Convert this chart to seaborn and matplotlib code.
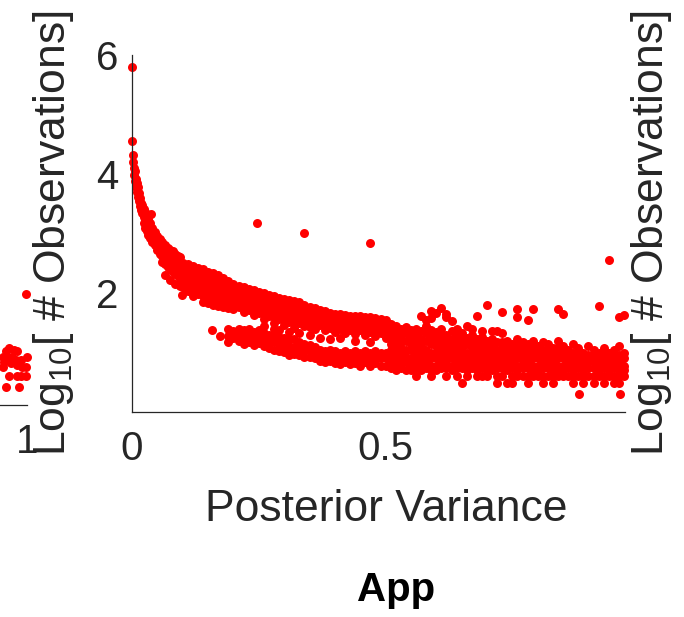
import numpy as np
import pandas as pd
import matplotlib
matplotlib.use("Agg")
import matplotlib.pyplot as plt
import seaborn as sns

# ---------------- data ----------------
# isolated points: (posterior variance, log10 #observations)
outlier_x = [0.000, 0.000, 0.037, 0.098, 0.157, 0.173, 0.246, 0.340, 0.470, 0.940, 0.882, 0.962]
outlier_y = [5.80, 4.55, 3.33, 1.97, 1.38, 1.28, 3.18, 3.01, 2.84, 2.55, 0.30, 0.30]

# steep head of the curve (column x, list of y values)
head_x = [0.002, 0.004, 0.006, 0.008, 0.010, 0.012, 0.014, 0.016, 0.018, 0.020,
          0.023, 0.026, 0.029, 0.032, 0.035]
head_y = [[4.32, 4.20], [4.10, 3.98], [4.05, 3.88], [3.92, 3.78], [3.85, 3.70],
          [3.78, 3.62], [3.68, 3.55], [3.60, 3.46], [3.52, 3.40], [3.48, 3.34],
          [3.42, 3.28, 3.18], [3.36, 3.22, 3.10], [3.30, 3.17, 3.04],
          [3.24, 3.12, 2.98], [3.18, 3.06, 2.93]]

# upper band
upper_x = [0.040, 0.045, 0.050, 0.055, 0.060, 0.065, 0.070, 0.075, 0.080, 0.085,
           0.090, 0.095, 0.10, 0.11, 0.12, 0.13, 0.14, 0.15, 0.16, 0.17, 0.18,
           0.19, 0.20, 0.21, 0.22, 0.23, 0.24, 0.25, 0.26, 0.27, 0.28, 0.29,
           0.30, 0.31, 0.32, 0.33, 0.34, 0.35, 0.36, 0.37, 0.38, 0.39, 0.40,
           0.41, 0.42, 0.43, 0.44, 0.45, 0.46, 0.47, 0.48, 0.49, 0.50]
upper_y = [[3.10, 2.98, 2.86], [3.02, 2.90, 2.80], [2.95, 2.84, 2.72],
           [2.90, 2.78, 2.66], [2.86, 2.74, 2.62, 2.52], [2.80, 2.70, 2.58, 2.48, 2.30],
           [2.76, 2.65, 2.54, 2.44], [2.72, 2.62, 2.50, 2.40, 2.22],
           [2.70, 2.58, 2.46, 2.36], [2.66, 2.55, 2.44, 2.32, 2.15],
           [2.62, 2.52, 2.40, 2.28], [2.60, 2.48, 2.36, 2.25, 2.12],
           [2.50, 2.40, 2.30, 2.20, 2.10], [2.48, 2.37, 2.26, 2.15, 2.04],
           [2.45, 2.34, 2.23, 2.12, 2.02, 1.95], [2.42, 2.31, 2.20, 2.09, 1.98],
           [2.40, 2.29, 2.18, 2.06, 1.95, 1.85], [2.36, 2.25, 2.14, 2.03, 1.92, 1.83],
           [2.33, 2.22, 2.11, 2.00, 1.90, 1.80], [2.30, 2.19, 2.08, 1.97, 1.87, 1.78],
           [2.25, 2.15, 2.05, 1.95, 1.85, 1.76], [2.20, 2.10, 2.00, 1.90, 1.81, 1.74],
           [2.15, 2.06, 1.97, 1.88, 1.80, 1.73], [2.12, 2.03, 1.94, 1.85, 1.77],
           [2.10, 2.01, 1.92, 1.83, 1.75, 1.68], [2.07, 1.98, 1.89, 1.80, 1.72],
           [2.05, 1.96, 1.87, 1.78, 1.70, 1.63], [2.02, 1.93, 1.84, 1.75, 1.66],
           [2.00, 1.91, 1.82, 1.73, 1.64, 1.57, 1.45], [1.97, 1.88, 1.79, 1.70, 1.61],
           [1.95, 1.86, 1.77, 1.68, 1.59, 1.50, 1.40], [1.92, 1.83, 1.74, 1.65, 1.56, 1.37],
           [1.90, 1.81, 1.72, 1.63, 1.55, 1.47], [1.88, 1.79, 1.70, 1.61, 1.52, 1.35],
           [1.87, 1.78, 1.68, 1.59, 1.50, 1.42], [1.85, 1.76, 1.67, 1.58, 1.49, 1.32],
           [1.80, 1.71, 1.62, 1.53, 1.45], [1.77, 1.68, 1.59, 1.50, 1.43, 1.30],
           [1.74, 1.65, 1.56, 1.48, 1.40], [1.71, 1.62, 1.54, 1.46, 1.25],
           [1.69, 1.60, 1.52, 1.44, 1.37], [1.67, 1.58, 1.50, 1.42, 1.22],
           [1.65, 1.57, 1.49, 1.41, 1.34], [1.64, 1.56, 1.48, 1.40, 1.25],
           [1.63, 1.55, 1.47, 1.39, 1.33], [1.62, 1.54, 1.46, 1.38],
           [1.62, 1.54, 1.46, 1.38, 1.31, 1.20], [1.61, 1.53, 1.45, 1.37],
           [1.60, 1.52, 1.44, 1.36, 1.30], [1.59, 1.51, 1.43, 1.35, 1.18],
           [1.58, 1.50, 1.42, 1.34, 1.28], [1.56, 1.48, 1.40, 1.32],
           [1.55, 1.47, 1.39, 1.31, 1.25]]

# lower band
lower_x = [0.19, 0.20, 0.21, 0.22, 0.23, 0.24, 0.25, 0.26, 0.27, 0.28, 0.29, 0.30,
           0.31, 0.32, 0.33, 0.34, 0.35, 0.36, 0.37, 0.38, 0.39, 0.40, 0.41, 0.42,
           0.43, 0.44, 0.45, 0.46, 0.47, 0.48, 0.49, 0.50]
lower_y = [[1.39, 1.28, 1.17], [1.36, 1.24], [1.40, 1.30, 1.19], [1.37, 1.26, 1.15],
           [1.39, 1.29, 1.18], [1.35, 1.24, 1.13], [1.38, 1.27, 1.16], [1.33, 1.22, 1.11],
           [1.30, 1.19, 1.08], [1.28, 1.17, 1.05], [1.26, 1.15, 1.03], [1.24, 1.13, 1.01],
           [1.23, 1.11, 1.00, 0.95], [1.22, 1.10, 0.98], [1.18, 1.07, 0.96],
           [1.15, 1.04, 0.93], [1.12, 1.02, 0.92], [1.10, 1.00, 0.90], [1.04, 0.95, 0.86],
           [1.02, 0.93, 0.84], [1.04, 0.95, 0.85], [1.02, 0.92, 0.82], [1.00, 0.90, 0.81],
           [1.02, 0.93, 0.84], [1.00, 0.90, 0.80], [1.02, 0.92, 0.82], [1.00, 0.90, 0.78],
           [1.02, 0.93, 0.84], [1.00, 0.90, 0.78], [1.02, 0.92, 0.82], [1.00, 0.90, 0.78],
           [1.00, 0.90, 0.78]]

# merged tail (x >= 0.51)
tail_x = [0.51, 0.52, 0.53, 0.54, 0.55, 0.56, 0.57, 0.58, 0.59, 0.60, 0.61, 0.62,
          0.63, 0.64, 0.65, 0.66, 0.67, 0.68, 0.69, 0.70, 0.71, 0.72, 0.73, 0.74,
          0.75, 0.76, 0.77, 0.78, 0.79, 0.80, 0.81, 0.82, 0.83, 0.84, 0.85, 0.86,
          0.87, 0.88, 0.89, 0.90, 0.91, 0.92, 0.93, 0.94, 0.95, 0.96, 0.97]
tail_y = [[1.48, 1.38, 1.26, 1.15, 1.04, 0.93, 0.84, 0.74],
          [1.45, 1.34, 1.23, 1.11, 1.00, 0.90, 0.78, 0.70],
          [1.40, 1.30, 1.18, 1.08, 0.95, 0.85, 0.74],
          [1.43, 1.32, 1.20, 1.04, 0.93, 0.84, 0.70],
          [1.38, 1.26, 1.15, 1.04, 0.90, 0.78, 0.70],
          [1.40, 1.28, 1.18, 1.08, 0.95, 0.85, 0.74, 0.60],
          [1.62, 1.36, 1.23, 1.11, 1.00, 0.90, 0.78, 0.70],
          [1.55, 1.45, 1.32, 1.20, 1.04, 0.93, 0.84, 0.74],
          [1.70, 1.58, 1.38, 1.26, 1.15, 1.00, 0.90, 0.78, 0.70, 0.60],
          [1.66, 1.34, 1.23, 1.11, 1.00, 0.90, 0.78, 0.70],
          [1.74, 1.40, 1.28, 1.15, 1.04, 0.93, 0.84, 0.74],
          [1.65, 1.60, 1.30, 1.20, 1.08, 0.95, 0.85, 0.74, 0.60],
          [1.53, 1.36, 1.23, 1.11, 1.00, 0.90, 0.78, 0.70],
          [1.40, 1.28, 1.15, 1.04, 0.93, 0.84, 0.74, 0.60],
          [1.32, 1.20, 1.08, 0.95, 0.85, 0.74, 0.48],
          [1.45, 1.25, 1.15, 1.00, 0.90, 0.78, 0.70, 0.60],
          [1.40, 1.30, 1.18, 1.08, 0.95, 0.85, 0.74],
          [1.61, 1.23, 1.11, 1.00, 0.90, 0.78, 0.70, 0.60],
          [1.36, 1.26, 1.15, 1.04, 0.93, 0.84, 0.74, 0.60],
          [1.80, 1.20, 1.08, 0.95, 0.85, 0.78, 0.70, 0.60],
          [1.36, 1.23, 1.11, 1.00, 0.90, 0.78, 0.70],
          [1.36, 1.18, 1.04, 0.93, 0.84, 0.74, 0.60, 0.48],
          [1.68, 1.33, 1.18, 1.08, 0.95, 0.85, 0.74, 0.60],
          [1.18, 1.20, 1.08, 1.00, 0.90, 0.78, 0.70, 0.48],
          [1.15, 1.04, 0.93, 0.84, 0.74, 0.60, 0.48],
          [1.73, 1.60, 1.23, 1.11, 1.00, 0.90, 0.78, 0.70, 0.60],
          [1.18, 1.08, 0.95, 0.85, 0.74, 0.60],
          [1.55, 1.15, 1.04, 0.93, 0.84, 0.74, 0.60, 0.48],
          [1.73, 1.20, 1.08, 1.00, 0.90, 0.78, 0.70, 0.60],
          [1.11, 1.00, 0.90, 0.78, 0.70, 0.60],
          [1.18, 1.04, 0.95, 0.85, 0.74, 0.60, 0.48],
          [1.15, 1.04, 0.93, 0.84, 0.74, 0.60],
          [1.08, 0.95, 0.85, 0.78, 0.70, 0.60, 0.48],
          [1.73, 1.20, 1.08, 1.00, 0.90, 0.78, 0.70, 0.60],
          [1.65, 1.11, 1.00, 0.90, 0.78, 0.70, 0.60],
          [1.04, 0.93, 0.84, 0.74, 0.60],
          [1.15, 1.00, 0.90, 0.78, 0.70, 0.60, 0.48],
          [1.08, 0.95, 0.85, 0.74, 0.60],
          [1.00, 0.90, 0.78, 0.70, 0.60, 0.48],
          [1.11, 0.95, 0.85, 0.74, 0.60],
          [1.04, 0.93, 0.84, 0.74, 0.60, 0.48],
          [1.78, 1.00, 0.90, 0.78, 0.70, 0.60],
          [1.08, 0.95, 0.85, 0.74, 0.60, 0.48],
          [1.00, 0.90, 0.78, 0.70, 0.60],
          [1.04, 0.93, 0.84, 0.74, 0.60, 0.48],
          [1.60, 1.11, 0.95, 0.85, 0.78, 0.70, 0.60, 0.48],
          [1.63, 1.00, 0.90, 0.78, 0.70, 0.60]]

# right-most edge of the neighbouring (left) panel
left_x = [0.998, 0.957, 0.964, 0.974, 0.980, 0.961, 0.970, 0.977, 0.987, 1.000,
          0.953, 0.967, 0.980, 0.990, 0.997, 0.964, 0.980, 0.987, 0.997, 0.957,
          0.984, 0.951, 0.951]
left_y = [1.87, 0.90, 0.95, 0.92, 0.90, 0.81, 0.81, 0.76, 0.76, 0.81, 0.73, 0.70,
          0.67, 0.64, 0.64, 0.48, 0.48, 0.48, 0.48, 0.30, 0.30, 0.81, 0.64]

x_ticks = [0, 0.5]
y_ticks = [2, 4, 6]
x_label = "Posterior Variance"
y_label = r"Log$_{10}$[ # Observations]"
panel_title = "App"


def expand(xs, ycols):
    px, py = [], []
    for x, ys in zip(xs, ycols):
        for y in ys:
            px.append(x)
            py.append(y)
    return px, py


vx, vy = list(outlier_x), list(outlier_y)
for xs, ycols in [(head_x, head_y), (upper_x, upper_y), (lower_x, lower_y), (tail_x, tail_y)]:
    a, b = expand(xs, ycols)
    vx += a
    vy += b
main_df = pd.DataFrame({"variance": vx, "log_obs": vy})
left_df = pd.DataFrame({"variance": left_x, "log_obs": left_y})

# ---------------- style ----------------
sns.set_theme(style="white")
plt.rcParams["font.family"] = ["Liberation Sans", "DejaVu Sans"]
plt.rcParams["mathtext.default"] = "regular"
DARK = "#262626"
TICK_FS = 29
LABEL_FS = 32
MS = 42

W, H = 684, 617
fig = plt.figure(figsize=(W / 100, H / 100), dpi=100)
fig.patch.set_facecolor("white")

def px_axes(left, bottom_px, width=493, height=357):
    return fig.add_axes([left / W, (H - bottom_px) / H, width / W, height / H])

ax_left = px_axes(132 - 598, 405)
ax = px_axes(132, 412)
ax_right = px_axes(730, 412)


def style_axes(a, xlim):
    a.set_xlim(*xlim)
    a.set_ylim(0, 6)
    a.set_yticks(y_ticks)
    a.set_yticklabels([str(t) for t in y_ticks])
    for s in ["top", "right"]:
        a.spines[s].set_visible(False)
    for s in ["left", "bottom"]:
        a.spines[s].set_color(DARK)
        a.spines[s].set_linewidth(0.9)
    a.tick_params(axis="both", direction="in", length=4, width=0.9, color=DARK,
                  labelcolor=DARK, labelsize=TICK_FS)
    a.tick_params(axis="y", pad=10)
    a.tick_params(axis="x", pad=13)
    a.set_facecolor("none")


sns.scatterplot(data=left_df, x="variance", y="log_obs", ax=ax_left, color="#ff0000",
                s=MS, linewidth=0, legend=False, clip_on=False)
style_axes(ax_left, (0, 1))
ax_left.set_xticks([0, 0.5, 1])
ax_left.set_xticklabels(["0", "0.5", "1"])
ax_left.set_xlabel("")
ax_left.set_ylabel("")

sns.scatterplot(data=main_df, x="variance", y="log_obs", ax=ax, color="#ff0000",
                s=MS, linewidth=0, legend=False, clip_on=False)
style_axes(ax, (0, 0.972))
ax.set_xticks(x_ticks)
ax.set_xticklabels(["0", "0.5"])
ax.set_xlabel(x_label, fontsize=LABEL_FS, color=DARK)
ax.xaxis.set_label_coords(0.515, -0.215)
ax.set_ylabel(y_label, fontsize=LABEL_FS, color=DARK)
ax.yaxis.set_label_coords(-0.113, 0.5)

style_axes(ax_right, (0, 1))
ax_right.set_xticks([0, 0.5, 1])
ax_right.set_ylabel(y_label, fontsize=LABEL_FS, color=DARK)
ax_right.yaxis.set_label_coords(-0.113, 0.5)

fig.text(396 / W, 1 - 590 / H, panel_title, ha="center", va="center",
         fontsize=TICK_FS, fontweight="bold", color="black")

fig.savefig("out.png", dpi=100, facecolor="white")
